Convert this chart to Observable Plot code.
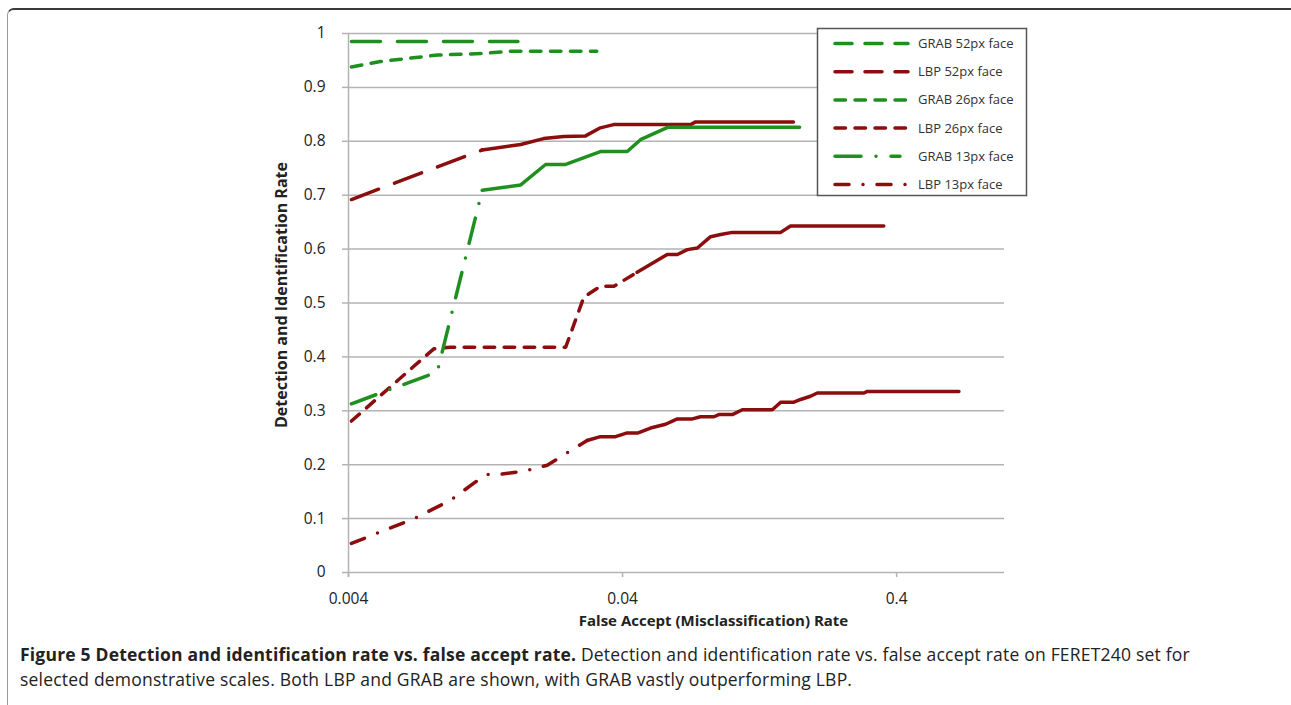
<!DOCTYPE html>
<html><head><meta charset="utf-8">
<script src="https://cdn.jsdelivr.net/npm/d3@7"></script>
<script src="https://cdn.jsdelivr.net/npm/@observablehq/plot@0.6"></script>
<style>
body{margin:0;background:#fff;font-family:"Open Sans",sans-serif;}
#wrap{position:relative;width:1291px;height:705px;overflow:hidden;background:#fff;}
#frame{position:absolute;left:7px;top:8px;width:1300px;height:720px;border-top:2px solid #3a3a3a;border-left:1.5px solid #9a9a9a;border-top-left-radius:7px;}
#chart{position:absolute;left:0;top:0;}
#legend{position:absolute;left:0;top:0;}
#caption{position:absolute;left:20px;top:642px;font-size:17.5px;letter-spacing:0.2px;line-height:25px;color:#222;white-space:nowrap;}
#caption b{font-weight:700;}
</style></head><body>
<div id="wrap"><div id="frame"></div><div id="chart"></div><svg id="legend" width="1291" height="220"></svg>
<div id="caption"><b>Figure 5 Detection and identification rate vs. false accept rate.</b> Detection and identification rate vs. false accept rate on FERET240 set for<br>selected demonstrative scales. Both LBP and GRAB are shown, with GRAB vastly outperforming LBP.</div>
</div>
<script>
// ---- data ----
const xTickValues = [0.004, 0.04, 0.4];
const xTickLabels = ["0.004", "0.04", "0.4"];
const yTickValues = [0, 0.1, 0.2, 0.3, 0.4, 0.5, 0.6, 0.7, 0.8, 0.9, 1];
const yTickLabels = ["0", "0.1", "0.2", "0.3", "0.4", "0.5", "0.6", "0.7", "0.8", "0.9", "1"];
const xLabel = "False Accept (Misclassification) Rate";
const yLabel = "Detection and Identification Rate";

const seriesNames = ["GRAB 52px face", "LBP 52px face", "GRAB 26px face", "LBP 26px face", "GRAB 13px face", "LBP 13px face"];

const grab52FAR = [0.0041, 0.0166];
const grab52Rate = [0.985, 0.985];
const lbp52FAR = [0.0041, 0.0123, 0.0170, 0.0206, 0.0244, 0.0293, 0.0332, 0.0371, 0.0708, 0.0739, 0.168];
const lbp52Rate = [0.692, 0.784, 0.794, 0.805, 0.809, 0.810, 0.825, 0.831, 0.831, 0.836, 0.836];
const grab26FAR = [0.0041, 0.00523, 0.00845, 0.0124, 0.0156, 0.0322];
const grab26Rate = [0.938, 0.948, 0.960, 0.963, 0.967, 0.967];
const lbp26FAR = [0.0041, 0.00819, 0.00942, 0.0248, 0.0289, 0.0332, 0.0372, 0.0452, 0.0582, 0.0634, 0.0689, 0.0750, 0.0838, 0.0912, 0.1006, 0.151, 0.164, 0.359];
const lbp26Rate = [0.281, 0.415, 0.418, 0.418, 0.511, 0.531, 0.531, 0.557, 0.590, 0.590, 0.599, 0.602, 0.623, 0.627, 0.631, 0.631, 0.643, 0.643];
const grab13FAR = [0.0041, 0.00843, 0.0123, 0.0170, 0.02095, 0.0248, 0.0332, 0.0416, 0.0465, 0.0584, 0.177];
const grab13Rate = [0.313, 0.372, 0.709, 0.719, 0.757, 0.757, 0.781, 0.781, 0.803, 0.826, 0.826];
const lbp13FAR = [0.0041, 0.00692, 0.00942, 0.01163, 0.01283, 0.01414, 0.01745, 0.02124, 0.0297, 0.0332, 0.0377, 0.0416, 0.0456, 0.0506, 0.0574, 0.0634, 0.0719, 0.0770, 0.0862, 0.0898, 0.1006, 0.1094, 0.1408, 0.151, 0.1688, 0.1785, 0.194, 0.2054, 0.304, 0.3127, 0.675];
const lbp13Rate = [0.054, 0.0996, 0.134, 0.168, 0.182, 0.182, 0.188, 0.199, 0.245, 0.252, 0.252, 0.259, 0.259, 0.268, 0.275, 0.285, 0.285, 0.289, 0.289, 0.293, 0.293, 0.302, 0.302, 0.316, 0.316, 0.321, 0.327, 0.333, 0.333, 0.336, 0.336];

const seriesFAR = [grab52FAR, lbp52FAR, grab26FAR, lbp26FAR, grab13FAR, lbp13FAR];
const seriesRate = [grab52Rate, lbp52Rate, grab26Rate, lbp26Rate, grab13Rate, lbp13Rate];

// ---- styles ----
const GREEN = "#1f8f1f", RED = "#8c0d0d";
const seriesColors = [GREEN, RED, GREEN, RED, GREEN, RED];
const seriesDash = ["29,17", "29,17", "10.5,9.5", "10.5,9.5", "26,15,0,15", "14,14,0,14"];
const seriesDashUntil = [Infinity, 0.0123, Infinity, 0.0452, 0.0123, 0.0297];
const LW = 3.5;

const rows = [];
seriesNames.forEach((name, i) => seriesFAR[i].forEach((x, j) => rows.push({series: name, x, y: seriesRate[i][j]})));

const lineMarks = seriesNames.flatMap((name, i) => {
  const pts = rows.filter(r => r.series === name);
  const cut = seriesDashUntil[i];
  const dashed = pts.filter(r => r.x <= cut);
  const solid = pts.filter(r => r.x >= cut);
  const out = [];
  if (dashed.length > 1) out.push(Plot.line(dashed, {x: "x", y: "y", stroke: seriesColors[i], strokeWidth: LW, strokeDasharray: seriesDash[i], strokeLinecap: "round", strokeLinejoin: "round"}));
  if (solid.length > 1) out.push(Plot.line(solid, {x: "x", y: "y", stroke: seriesColors[i], strokeWidth: LW, strokeLinecap: "round", strokeLinejoin: "round"}));
  return out;
});

const GRID = "#b3b3b3";
const chart = Plot.plot({
  width: 1291,
  height: 640,
  marginLeft: 348,
  marginRight: 287,
  marginTop: 33,
  marginBottom: 68,
  style: {fontFamily: "'Open Sans', sans-serif", color: "#222", background: "transparent"},
  x: {type: "log", domain: [0.004, 0.99]},
  y: {domain: [0, 1]},
  marks: [
    Plot.ruleY(yTickValues, {stroke: GRID, strokeWidth: 1.5}),
    Plot.ruleX([0.004], {stroke: GRID, strokeWidth: 1.5, insetBottom: -5}),
    Plot.axisY({ticks: yTickValues, tickFormat: d => yTickLabels[yTickValues.indexOf(d)], tickSize: 6, tickPadding: 17, fontSize: 15.5, stroke: GRID, strokeWidth: 1.5, label: null}),
    Plot.axisX({ticks: xTickValues, tickFormat: d => xTickLabels[xTickValues.indexOf(d)], tickSize: 5, tickPadding: 15, fontSize: 15.5, stroke: GRID, strokeWidth: 1.5, label: null}),
    Plot.text([xLabel], {text: d => d, frameAnchor: "bottom", textAnchor: "middle", dx: 37, dy: 53, fontWeight: "bold", fontSize: 15, fill: "#222"}),
    Plot.text([yLabel], {text: d => d, frameAnchor: "left", textAnchor: "middle", rotate: -90, dx: -67, dy: -8, fontWeight: "bold", fontSize: 16, fill: "#222"}),
    ...lineMarks
  ]
});
document.getElementById("chart").appendChild(chart);

// ---- legend ----
const lg = d3.select("#legend");
lg.append("rect").attr("x", 817.5).attr("y", 28.5).attr("width", 209).attr("height", 167)
  .attr("fill", "#fff").attr("stroke", "#555").attr("stroke-width", 1.5);
seriesNames.forEach((name, i) => {
  const cy = 43.5 + i * 28.2;
  lg.append("line").attr("x1", 835).attr("x2", i === 4 ? 900 : 908).attr("y1", cy).attr("y2", cy)
    .attr("stroke", seriesColors[i]).attr("stroke-width", LW)
    .attr("stroke-dasharray", i < 2 ? "17,13" : seriesDash[i]).attr("stroke-linecap", "round");
  lg.append("text").attr("x", 918).attr("y", cy).attr("dy", "0.35em")
    .attr("font-family", "'Open Sans', sans-serif").attr("font-size", 13).attr("fill", "#333").text(name);
});
</script>
</body></html>
